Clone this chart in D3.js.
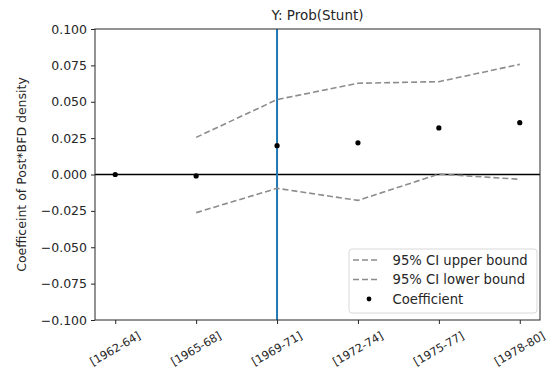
<!DOCTYPE html>
<html>
<head>
<meta charset="utf-8">
<script src="https://cdn.jsdelivr.net/npm/d3@7/dist/d3.min.js"></script>
<style>
  html, body { margin: 0; padding: 0; background: #fff; }
  text { font-family: "DejaVu Sans", sans-serif; fill: #262626; }
</style>
</head>
<body>
<svg id="chart" width="548" height="379"></svg>
<script>
// Event-study estimates by birth cohort
const cohorts = ["[1962-64]", "[1965-68]", "[1969-71]", "[1972-74]", "[1975-77]", "[1978-80]"];
const coefficient = [0.0000, -0.0010, 0.0198, 0.0218, 0.0320, 0.0356];
const ciUpper = [null, 0.0255, 0.0515, 0.0627, 0.0638, 0.0757];
const ciLower = [null, -0.0262, -0.0095, -0.0178, 0.0003, -0.0033];
const yTicks = [0.100, 0.075, 0.050, 0.025, 0.000, -0.025, -0.050, -0.075, -0.100];
const eventCohort = "[1969-71]";

const svg = d3.select("#chart");
const plot = { left: 95, right: 540, top: 29, bottom: 320 };

const x = d3.scaleLinear().domain([-0.25, cohorts.length - 1 + 0.25]).range([plot.left, plot.right]);
const y = d3.scaleLinear().domain([-0.1, 0.1]).range([plot.bottom, plot.top]);

// Axes
const yAxis = d3.axisLeft(y).tickValues(yTicks).tickSize(4).tickPadding(4)
  .tickFormat(d => d3.format(".3f")(d).replace("-", "\u2212"));
const gy = svg.append("g").attr("transform", `translate(${plot.left},0)`).call(yAxis);
gy.select(".domain").remove();
gy.selectAll("text").style("font-size", "12.5px").attr("fill", "#262626");
gy.selectAll("line").attr("stroke", "#262626");

const xAxis = d3.axisBottom(x).tickValues(d3.range(cohorts.length)).tickSize(4).tickFormat(() => "");
const gx = svg.append("g").attr("transform", `translate(0,${plot.bottom})`).call(xAxis);
gx.select(".domain").remove();
gx.selectAll("line").attr("stroke", "#262626");

svg.append("g").selectAll("text").data(cohorts).join("text")
  .attr("transform", (d, i) => `translate(${x(i)},${plot.bottom + 29}) rotate(-30)`)
  .attr("text-anchor", "middle")
  .attr("dominant-baseline", "central")
  .style("font-size", "11.3px")
  .text(d => d);

// Zero reference line
svg.append("line")
  .attr("x1", plot.left).attr("x2", plot.right)
  .attr("y1", y(0)).attr("y2", y(0))
  .attr("stroke", "#000").attr("stroke-width", 1.5);

// Event cohort marker
const ei = cohorts.indexOf(eventCohort);
svg.append("line")
  .attr("x1", x(ei)).attr("x2", x(ei))
  .attr("y1", plot.top).attr("y2", plot.bottom)
  .attr("stroke", "#1f77b4").attr("stroke-width", 2);

// Confidence bounds
const line = d3.line().defined(d => d != null).x((d, i) => x(i)).y(d => y(d));
[ciUpper, ciLower].forEach(series => {
  svg.append("path")
    .datum(series)
    .attr("d", line)
    .attr("fill", "none")
    .attr("stroke", "#8c8c8c")
    .attr("stroke-width", 1.6)
    .attr("stroke-dasharray", "6,3");
});

// Point estimates
svg.append("g").selectAll("circle").data(coefficient).join("circle")
  .attr("cx", (d, i) => x(i)).attr("cy", d => y(d))
  .attr("r", 2.6).attr("fill", "#000");

// Frame
svg.append("rect")
  .attr("x", plot.left).attr("y", plot.top)
  .attr("width", plot.right - plot.left).attr("height", plot.bottom - plot.top)
  .attr("fill", "none").attr("stroke", "#262626").attr("stroke-width", 1);

// Title and y label
svg.append("text").attr("x", (plot.left + plot.right) / 2).attr("y", 20)
  .attr("text-anchor", "middle").style("font-size", "13.5px").text("Y: Prob(Stunt)");

svg.append("text")
  .attr("transform", `translate(21,${(plot.top + plot.bottom) / 2}) rotate(-90)`)
  .attr("text-anchor", "middle").attr("dominant-baseline", "central")
  .style("font-size", "12.5px").text("Coefficeint of Post*BFD density");

// Legend
const lg = svg.append("g").attr("transform", "translate(349,249)");
lg.append("rect").attr("width", 188).attr("height", 64).attr("rx", 3)
  .attr("fill", "#fff").attr("fill-opacity", 0.8).attr("stroke", "#d9d9d9");
const items = [
  { label: "95% CI upper bound", type: "dash" },
  { label: "95% CI lower bound", type: "dash" },
  { label: "Coefficient", type: "dot" }
];
items.forEach((it, i) => {
  const cy = 11 + i * 19.5;
  if (it.type === "dash") {
    lg.append("line").attr("x1", 4).attr("x2", 31).attr("y1", cy).attr("y2", cy)
      .attr("stroke", "#8c8c8c").attr("stroke-width", 1.6).attr("stroke-dasharray", "6,3");
  } else {
    lg.append("circle").attr("cx", 20).attr("cy", cy).attr("r", 2.4).attr("fill", "#000");
  }
  lg.append("text").attr("x", 43.5).attr("y", cy).attr("dominant-baseline", "central")
    .style("font-size", "13.2px").text(it.label);
});
</script>
</body>
</html>
